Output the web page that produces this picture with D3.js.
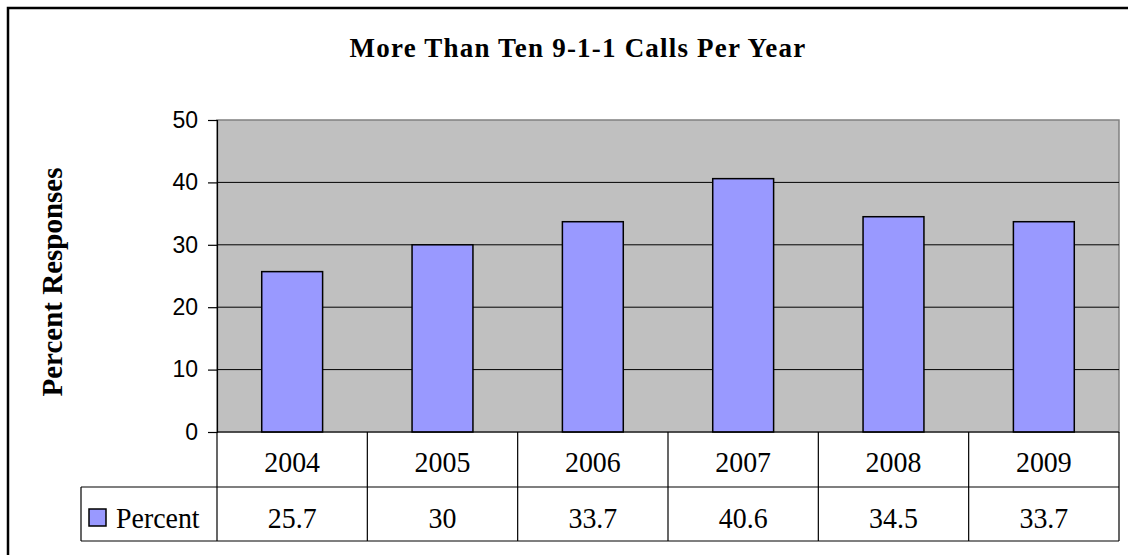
<!DOCTYPE html>
<html>
<head>
<meta charset="utf-8">
<script src="https://cdn.jsdelivr.net/npm/d3@7"></script>
<style>
  body { margin: 0; background: #fff; }
  svg { display: block; }
  .tick text { font-family: "Liberation Sans", Arial, sans-serif; }
</style>
</head>
<body>
<svg width="1128" height="555"></svg>
<script>
const years = ['2004', '2005', '2006', '2007', '2008', '2009']
const percent = [25.7, 30, 33.7, 40.6, 34.5, 33.7]
const yTicks = [0, 10, 20, 30, 40, 50]
const seriesName = 'Percent'
const title = 'More Than Ten 9-1-1 Calls Per Year'
const yTitle = 'Percent Responses'

var svg = d3.select('svg')

var plot = { left: 217, right: 1119, top: 120, bottom: 432 }
var rowH = 55
var legendLeft = 81
var serif = '"Liberation Serif", "Times New Roman", serif'

// outer frame (runs off the right and bottom of the picture)
svg.append('path')
  .attr('d', 'M8,560 L8,8 L1135,8')
  .attr('fill', 'none')
  .attr('stroke', '#000')
  .attr('stroke-width', 2.5)

var x = d3.scaleBand()
  .domain(years)
  .range([plot.left, plot.right])
  .paddingInner(0.595)
  .paddingOuter(0.2975)

var y = d3.scaleLinear()
  .domain([0, 50])
  .range([plot.bottom, plot.top])

// plot background
svg.append('rect')
  .attr('x', plot.left)
  .attr('y', plot.top)
  .attr('width', plot.right - plot.left)
  .attr('height', plot.bottom - plot.top)
  .attr('fill', '#c0c0c0')
  .attr('stroke', '#808080')
  .attr('stroke-width', 1.5)

// gridlines
svg.append('g')
  .selectAll('line')
  .data(yTicks.filter(d => d > 0 && d < 50))
  .enter()
  .append('line')
  .attr('x1', plot.left)
  .attr('x2', plot.right)
  .attr('y1', d => y(d))
  .attr('y2', d => y(d))
  .attr('stroke', '#000')
  .attr('stroke-width', 1)

// bars
svg.append('g')
  .selectAll('rect')
  .data(percent)
  .enter()
  .append('rect')
  .attr('x', (d, i) => x(years[i]))
  .attr('y', d => y(d))
  .attr('width', x.bandwidth())
  .attr('height', d => y(0) - y(d))
  .attr('fill', '#9999ff')
  .attr('stroke', '#000')
  .attr('stroke-width', 1.5)

// y axis
var yAxis = svg.append('g')
  .attr('transform', `translate(${plot.left},0)`)
  .call(d3.axisLeft(y).tickValues(yTicks).tickSize(9).tickPadding(10))

yAxis.select('.domain').attr('stroke', '#000').attr('stroke-width', 1.2)
yAxis.selectAll('.tick line').attr('stroke', '#000').attr('stroke-width', 1.2)
yAxis.selectAll('.tick text')
  .attr('font-size', 23)
  .attr('fill', '#000')

// data table under the plot
var table = svg.append('g').attr('stroke', '#000').attr('stroke-width', 1.2)
var step = x.step()

table.append('line')
  .attr('x1', plot.left).attr('x2', plot.right)
  .attr('y1', plot.bottom).attr('y2', plot.bottom)
table.append('line')
  .attr('x1', legendLeft).attr('x2', plot.right)
  .attr('y1', plot.bottom + rowH).attr('y2', plot.bottom + rowH)
table.append('line')
  .attr('x1', legendLeft).attr('x2', plot.right)
  .attr('y1', plot.bottom + rowH * 2 - 1).attr('y2', plot.bottom + rowH * 2 - 1)
table.append('line')
  .attr('x1', legendLeft).attr('x2', legendLeft)
  .attr('y1', plot.bottom + rowH).attr('y2', plot.bottom + rowH * 2 - 1)

table.selectAll('.sep')
  .data(d3.range(years.length + 1))
  .enter()
  .append('line')
  .attr('class', 'sep')
  .attr('x1', i => plot.left + i * step)
  .attr('x2', i => plot.left + i * step)
  .attr('y1', plot.bottom)
  .attr('y2', plot.bottom + rowH * 2 - 1)

// table text is a little taller than wide in the reference
var cellText = (sel, yPos) => sel
  .attr('transform', d => `translate(${d.x},${yPos}) scale(0.93,1)`)
  .attr('text-anchor', 'middle')
  .attr('font-family', serif)
  .attr('font-size', 30)
  .text(d => d.label)

svg.append('g')
  .selectAll('text')
  .data(years.map(d => ({ x: x(d) + x.bandwidth() / 2, label: d })))
  .enter()
  .append('text')
  .call(cellText, plot.bottom + 40)

svg.append('g')
  .selectAll('text')
  .data(percent.map((d, i) => ({ x: x(years[i]) + x.bandwidth() / 2, label: d })))
  .enter()
  .append('text')
  .call(cellText, plot.bottom + rowH + 41)

// legend key
svg.append('rect')
  .attr('x', 89)
  .attr('y', 509)
  .attr('width', 17)
  .attr('height', 17)
  .attr('fill', '#9999ff')
  .attr('stroke', '#000')
  .attr('stroke-width', 1.5)

svg.append('text')
  .attr('transform', `translate(116,${plot.bottom + rowH + 41}) scale(0.93,1)`)
  .attr('font-family', serif)
  .attr('font-size', 30)
  .text(seriesName)

// titles
svg.append('text')
  .attr('x', 578)
  .attr('y', 57)
  .attr('text-anchor', 'middle')
  .attr('font-family', serif)
  .attr('font-weight', 'bold')
  .attr('font-size', 27)
  .attr('letter-spacing', 1.2)
  .text(title)

svg.append('text')
  .attr('transform', 'translate(62,282) rotate(-90)')
  .attr('text-anchor', 'middle')
  .attr('font-family', serif)
  .attr('font-weight', 'bold')
  .attr('font-size', 29)
  .text(yTitle)
</script>
</body>
</html>
